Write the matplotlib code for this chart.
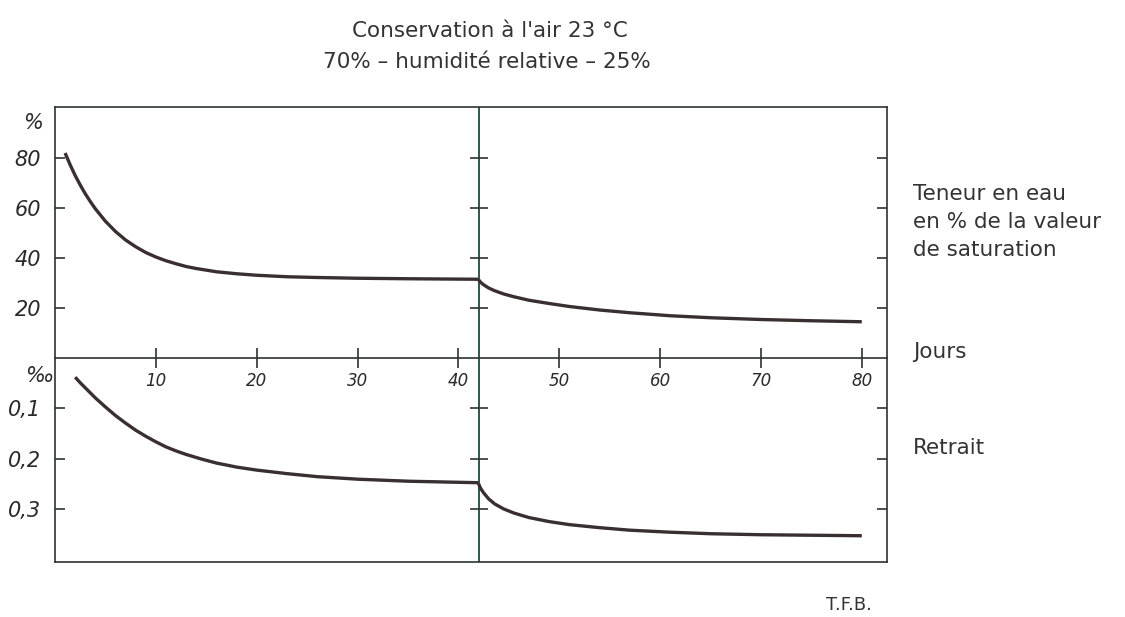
import matplotlib
matplotlib.use("Agg")
import matplotlib.pyplot as plt
import numpy as np

# ---------------- data ----------------
split_day = 42
days_water_1 = [1.0, 1.5, 2.0, 2.5, 3.0, 3.5, 4.0, 5.0, 6.0, 7.0, 8.0, 9.0, 10, 11, 12, 13,
                14, 16, 18, 20, 23, 26, 30, 35, 42]
water_1 = [82.0, 77.3, 73.0, 69.2, 65.7, 62.6, 59.7, 54.7, 50.6, 47.2, 44.5, 42.2, 40.4, 38.9, 37.7,
           36.6, 35.8, 34.5, 33.7, 33.1, 32.5, 32.2, 31.9, 31.7, 31.5]
days_water_2 = [42, 42.2, 42.5, 43, 43.6, 44.5, 45.5, 47, 49, 51, 54, 57, 61, 65, 70, 75, 80]
water_2 = [31.3, 30.3, 29.3, 28.0, 26.9, 25.6, 24.5, 23.1, 21.8, 20.6, 19.2, 18.1, 16.9, 16.1, 15.4,
           14.9, 14.5]

days_shr_1 = [2, 2.5, 3, 3.5, 4, 5, 6, 7, 8, 9, 10, 11, 12, 13, 14.5, 16, 18, 20, 23, 26, 30, 35, 42]
shr_1 = [0.038, 0.049, 0.059, 0.069, 0.079, 0.097, 0.114, 0.129, 0.143, 0.155, 0.166, 0.176, 0.184,
         0.191, 0.200, 0.208, 0.216, 0.222, 0.229, 0.235, 0.240, 0.244, 0.247]
days_shr_2 = [42, 42.2, 42.5, 43, 43.6, 44.5, 45.5, 47, 49, 51, 54, 57, 61, 65, 70, 75, 80]
shr_2 = [0.249, 0.258, 0.267, 0.279, 0.289, 0.299, 0.307, 0.316, 0.324, 0.330, 0.336, 0.341, 0.345,
         0.348, 0.350, 0.351, 0.352]

x_ticks = [10, 20, 30, 40, 50, 60, 70, 80]
water_ticks = [20, 40, 60, 80]
shr_ticks = [0.1, 0.2, 0.3]
shr_labels = ["0,1", "0,2", "0,3"]

title_lines = ["Conservation à l'air 23 °C", "70% – humidité relative – 25%"]
label_water = "Teneur en eau\nen % de la valeur\nde saturation"
label_days = "Jours"
label_shr = "Retrait"
credit = "T.F.B."

# ---------------- style ----------------
W_PX, H_PX = 1125, 617
frame_c = "#2b3430"
split_c = "#1d4a40"
curve_c = "#3a2f2f"
text_c = "#333333"
tick_font = dict(family="DejaVu Sans", style="italic")

fig = plt.figure(figsize=(W_PX / 100, H_PX / 100), dpi=100)
fig.patch.set_facecolor("white")

def fx(px):
    return px / W_PX

def fy(py):
    return 1 - py / H_PX

L, R = fx(55), fx(887)
ax1 = fig.add_axes([L, fy(358), R - L, fy(107) - fy(358)])
ax2 = fig.add_axes([L, fy(562), R - L, fy(358) - fy(562)], sharex=ax1)
ax2.patch.set_visible(False)

ax1.set_xlim(0, 82.5)
ax1.set_ylim(0, 100.4)
ax2.set_ylim(0.404, 0)

for ax in (ax1, ax2):
    for s in ax.spines.values():
        s.set_color(frame_c)
        s.set_linewidth(1.2)
ax2.spines["top"].set_visible(False)

# curves
lw = 2.4
for ax, xs, ys in ((ax1, days_water_1, water_1), (ax1, days_water_2, water_2),
                   (ax2, days_shr_1, shr_1), (ax2, days_shr_2, shr_2)):
    ax.plot(xs, ys, color=curve_c, lw=lw, solid_capstyle="butt", solid_joinstyle="round", zorder=3)

# vertical split line with cross ticks
for ax, tk in ((ax1, water_ticks), (ax2, shr_ticks)):
    ax.axvline(split_day, color=split_c, lw=1.3, zorder=2)
    ax.plot([split_day] * len(tk), tk, ls="none", marker="_", ms=13, mew=1.2,
            color=frame_c, zorder=2)

# x ticks on the zero line
ax1.set_xticks(x_ticks)
ax1.set_xticklabels([str(v) for v in x_ticks], fontsize=12, color="#2a2a2a", **tick_font)
ax1.tick_params(axis="x", direction="inout", length=14, width=1.2, color=frame_c,
                bottom=True, top=False, labelbottom=True, pad=3)
ax2.tick_params(axis="x", bottom=False, labelbottom=False)

# y ticks
ax1.set_yticks(water_ticks)
ax1.set_yticklabels([str(v) for v in water_ticks], fontsize=15, color="#2a2a2a", **tick_font)
ax1.tick_params(axis="y", direction="in", length=7, width=1.2, color=frame_c,
                left=True, right=True, pad=10)
ax2.set_yticks(shr_ticks)
ax2.set_yticklabels(shr_labels, fontsize=15, color="#2a2a2a", **tick_font)
ax2.tick_params(axis="y", direction="in", length=7, width=1.2, color=frame_c,
                left=True, right=True, pad=10)

# unit labels
ax1.text(-0.014, 94, "%", transform=ax1.get_yaxis_transform(), ha="right", va="center",
         fontsize=15, color="#2a2a2a", **tick_font)
ax2.text(-0.002, 0.036, "‰", transform=ax2.get_yaxis_transform(), ha="right", va="center",
         fontsize=15, color="#2a2a2a", **tick_font)

# titles & labels
tfont = dict(family="DejaVu Sans", color=text_c)
fs = 15.5
fig.text(fx(490), fy(31), title_lines[0], ha="center", va="center", fontsize=fs, **tfont)
fig.text(fx(487), fy(62), title_lines[1], ha="center", va="center", fontsize=fs, **tfont)
fig.text(fx(913), fy(222), label_water, ha="left", va="center", fontsize=fs,
         linespacing=1.5, **tfont)
fig.text(fx(913), fy(352), label_days, ha="left", va="center", fontsize=fs, **tfont)
fig.text(fx(913), fy(448), label_shr, ha="left", va="center", fontsize=fs, **tfont)
fig.text(fx(826), fy(605), credit, ha="left", va="center", fontsize=13, **tfont)

fig.savefig("out.png", dpi=100, facecolor="white")
